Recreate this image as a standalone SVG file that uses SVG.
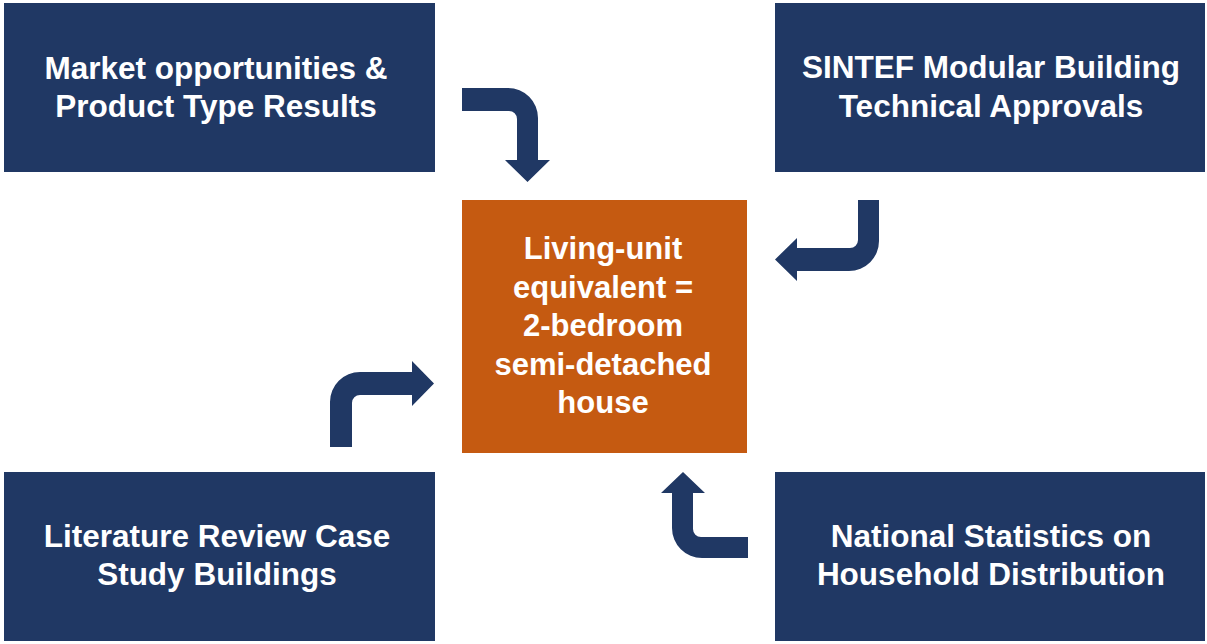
<svg xmlns="http://www.w3.org/2000/svg" width="1207" height="644" viewBox="0 0 1207 644">
<style>
.box{fill:#203864}
.core{fill:#c55a11}
.t{font-family:"Liberation Sans",Arial,sans-serif;font-weight:bold;font-size:31.5px;fill:#ffffff;text-anchor:middle}
.c{font-size:31px}
.arr{fill:#203864}
</style>
<rect width="1207" height="644" fill="#ffffff"/>
<g id="node-market">
<rect class="box" x="4" y="3" width="431" height="169"/>
<text class="t" x="216" y="79">Market opportunities &amp;</text>
<text class="t" x="216" y="117">Product Type Results</text>
</g>
<g id="node-sintef">
<rect class="box" x="775" y="3" width="430" height="169"/>
<text class="t" x="991" y="78">SINTEF Modular Building</text>
<text class="t" x="991" y="117">Technical Approvals</text>
</g>
<g id="node-literature">
<rect class="box" x="4" y="472" width="431" height="169"/>
<text class="t" x="217" y="547">Literature Review Case</text>
<text class="t" x="217" y="585">Study Buildings</text>
</g>
<g id="node-national">
<rect class="box" x="775" y="472" width="430" height="169"/>
<text class="t" x="991" y="547">National Statistics on</text>
<text class="t" x="991" y="585">Household Distribution</text>
</g>
<g id="node-center">
<rect class="core" x="462" y="200" width="285" height="253"/>
<text class="t c" x="603" y="259">Living-unit</text>
<text class="t c" x="603" y="297.5">equivalent =</text>
<text class="t c" x="603" y="336">2-bedroom</text>
<text class="t c" x="603" y="374.5">semi-detached</text>
<text class="t c" x="603" y="413">house</text>
</g>
<g id="connectors">
<path class="arr" d="M462,88 H508 A30,30 0 0 1 538,118 V160 H550 L527.5,182 L505,160 H517 V119 A8,8 0 0 0 509,111 H462 Z"/>
<path class="arr" d="M858,200 H879 V241 A30,30 0 0 1 849,271 H797 V281 L775,259.5 L797,238 V248 H850 A8,8 0 0 0 858,240 Z"/>
<path class="arr" d="M330,447 V402 A30,30 0 0 1 360,372 H412 V361 L434,383.5 L412,406 V395 H360 A8,8 0 0 0 352,403 V447 Z"/>
<path class="arr" d="M748,537 H701 A8,8 0 0 1 693,529 V493 H705 L683,472 L661,493 H672 V528 A30,30 0 0 0 702,558 H748 Z"/>
</g>
</svg>
